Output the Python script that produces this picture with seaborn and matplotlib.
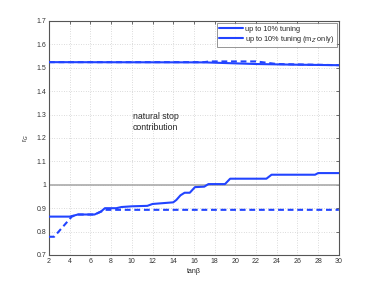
import numpy as np
import pandas as pd
import matplotlib
matplotlib.use("Agg")
import matplotlib.pyplot as plt
import seaborn as sns
from matplotlib.lines import Line2D

# ── Data ──────────────────────────────────────────────────────
tb_low_solid = [2, 4, 4.8, 6.4, 7.0, 7.4, 8.5, 9.0, 10.0, 11.5, 12.0, 14.0,
                14.3, 14.7, 15.1, 15.6, 16.1, 17.0, 17.4, 19.0, 19.5, 23.0,
                23.5, 27.7, 28.0, 30]
r_low_solid = [0.864, 0.864, 0.873, 0.873, 0.885, 0.900, 0.900, 0.905, 0.908,
               0.910, 0.918, 0.925, 0.935, 0.955, 0.966, 0.966, 0.990, 0.992,
               1.003, 1.003, 1.026, 1.026, 1.043, 1.043, 1.050, 1.050]

tb_low_dash = [2, 2.5, 4.2, 4.8, 6.4, 7.0, 7.4, 30]
r_low_dash = [0.778, 0.778, 0.864, 0.873, 0.873, 0.885, 0.893, 0.893]

tb_up_solid = [2, 17, 22, 26, 30]
r_up_solid = [1.524, 1.523, 1.516, 1.513, 1.511]

tb_up_dash = [2, 17, 17.5, 22, 24, 30]
r_up_dash = [1.524, 1.524, 1.527, 1.527, 1.516, 1.511]

labels = ["up to 10% tuning", "up to 10% tuning (m$_Z$ only)"]
BLUE = "#2244ff"

# ── Style ──────────────────────────────────────────────────────
sns.set_style("white")
plt.rcParams.update({
    "font.family": ["Liberation Sans", "DejaVu Sans"],
    "font.size": 5,
    "xtick.direction": "in",
    "ytick.direction": "in",
    "xtick.major.size": 2.5,
    "ytick.major.size": 2.5,
    "xtick.major.width": 0.5,
    "ytick.major.width": 0.5,
    "xtick.top": True,
    "ytick.right": True,
})

fig = plt.figure(figsize=(3.74, 2.87), dpi=100)
ax = fig.add_axes([0.131, 0.1115, 0.775, 0.8155])

ax.axhline(1.0, color="#aaaaaa", lw=1.2, zorder=1)

lw = 1.5
sns.lineplot(x=tb_up_solid, y=r_up_solid, ax=ax, color=BLUE, lw=lw, zorder=3)
sns.lineplot(x=tb_up_dash, y=r_up_dash, ax=ax, color=BLUE, lw=lw,
             linestyle=(0, (2.8, 1.8)), zorder=3)
sns.lineplot(x=tb_low_solid, y=r_low_solid, ax=ax, color=BLUE, lw=lw, zorder=3)
sns.lineplot(x=tb_low_dash, y=r_low_dash, ax=ax, color=BLUE, lw=lw,
             linestyle=(0, (2.8, 1.8)), zorder=3)

ax.set_xlim(2, 30)
ax.set_ylim(0.7, 1.7)
ax.set_xticks(np.arange(2, 31, 2))
ax.set_yticks(np.arange(0.7, 1.71, 0.1))
ax.set_yticklabels(["0.7", "0.8", "0.9", "1", "1.1", "1.2", "1.3", "1.4",
                    "1.5", "1.6", "1.7"])
ax.tick_params(labelsize=5, pad=2, colors="#333333")
ax.grid(True, ls=(0, (1, 2.5)), lw=0.5, color="#bbbbbb")
for s in ax.spines.values():
    s.set_color("#555555")
    s.set_linewidth(0.8)

ax.set_xlabel("tan\u03b2", fontsize=5, labelpad=2)
ax.set_ylabel("r$_G$", fontsize=5, labelpad=4)

ax.text(10.1, 1.31, "natural stop\ncontribution", fontsize=6.3,
        va="top", ha="left", linespacing=1.2)

handles = [Line2D([], [], color=BLUE, lw=lw), Line2D([], [], color=BLUE, lw=lw)]
leg = ax.legend(handles, labels, loc="upper right", fontsize=5.3,
                frameon=True, fancybox=False, borderpad=0.3,
                handlelength=3.2, handletextpad=0.3, labelspacing=0.15,
                borderaxespad=0.3)
leg.get_frame().set_edgecolor("#666666")
leg.get_frame().set_linewidth(0.6)

fig.savefig("out.png", dpi=100)
